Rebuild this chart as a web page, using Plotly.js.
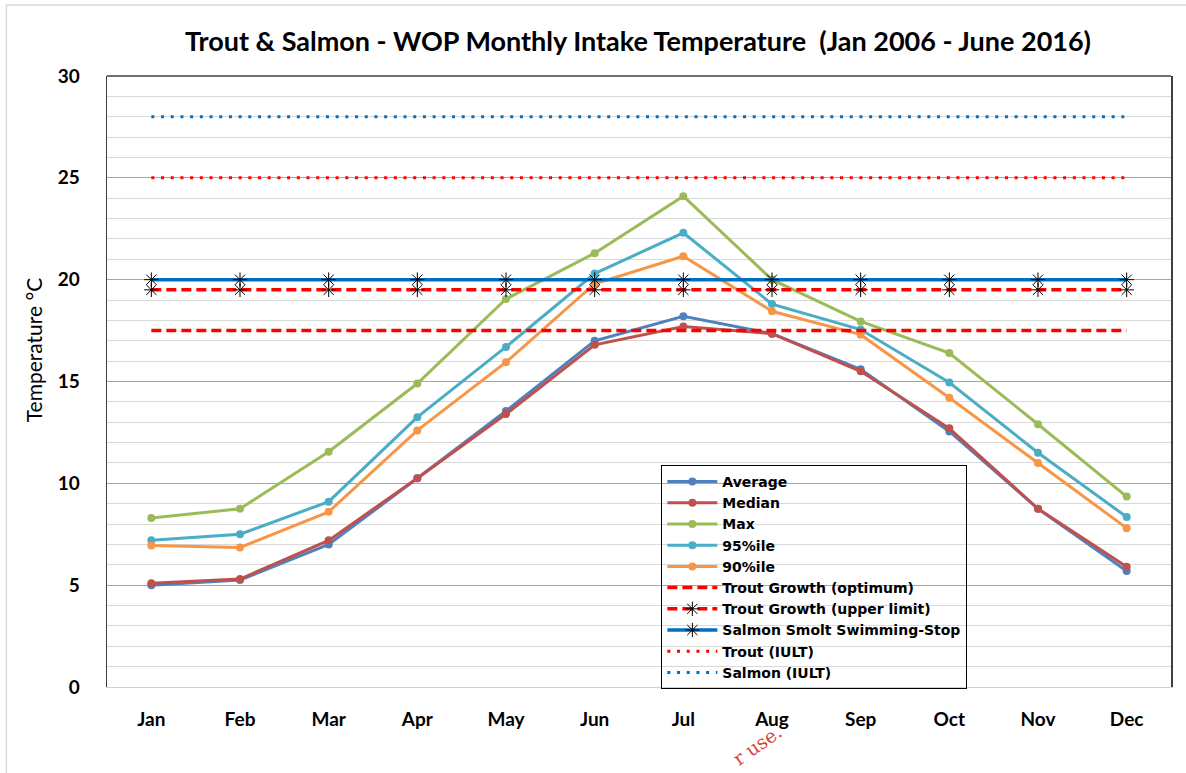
<!DOCTYPE html>
<html>
<head>
<meta charset="utf-8">
<script src="https://cdn.plot.ly/plotly-3.0.1.min.js"></script>
<style>
  html, body { margin: 0; padding: 0; background: #fff; }
  #chart { width: 1186px; height: 773px; }
</style>
</head>
<body>
<div id="chart"></div>
<script>
// monthly intake temperatures
const months = [ 'Jan', 'Feb', 'Mar', 'Apr', 'May', 'Jun', 'Jul', 'Aug', 'Sep', 'Oct', 'Nov', 'Dec' ];
const average = [ 5.0, 5.25, 7.0, 10.25, 13.55, 17.0, 18.2, 17.35, 15.6, 12.55, 8.75, 5.7 ];
const median = [ 5.1, 5.3, 7.2, 10.25, 13.4, 16.8, 17.7, 17.35, 15.5, 12.7, 8.75, 5.9 ];
const maxTemp = [ 8.3, 8.75, 11.55, 14.9, 19.05, 21.3, 24.1, 20.0, 17.95, 16.4, 12.9, 9.35 ];
const p95 = [ 7.2, 7.5, 9.1, 13.25, 16.7, 20.3, 22.3, 18.8, 17.55, 14.95, 11.5, 8.35 ];
const p90 = [ 6.95, 6.85, 8.6, 12.6, 15.95, 19.8, 21.15, 18.45, 17.3, 14.2, 11.0, 7.8 ];

// threshold lines (constant for every month)
const troutOptimum = 17.5;
const troutUpper = 19.5;
const salmonStop = 20;
const troutIULT = 25;
const salmonIULT = 28;

const yTicks = [ 0, 5, 10, 15, 20, 25, 30 ];

const flat = v => new Array(months.length).fill(v);
const FONT = 'Lato, "Open Sans", sans-serif';
const LEGEND_FONT = '"DejaVu Sans", Lato, sans-serif';

/**
 * data series: line + circle markers
 */
const series = ( name, y, color ) => ({
	x: months, y, name,
	type: 'scatter',
	mode: 'lines+markers',
	line: { color, width: 3 },
	marker: { color, size: 8, symbol: 'circle' },
});

const starMarker = { symbol: 'asterisk-open', size: 12, color: '#000', line: { color: '#000', width: 1 } };

const data = [
	series('Average', average, '#4F81BD'),
	series('Median', median, '#C0504D'),
	series('Max', maxTemp, '#9BBB59'),
	series('95%ile', p95, '#4BACC6'),
	series('90%ile', p90, '#F79646'),
	{
		x: months, y: flat(troutOptimum), name: 'Trout Growth (optimum)',
		type: 'scatter', mode: 'lines',
		line: { color: '#FF0000', width: 3.5, dash: '10px,5px' },
	},
	{
		x: months, y: flat(troutUpper), name: 'Trout Growth (upper limit)',
		type: 'scatter', mode: 'lines+markers',
		line: { color: '#FF0000', width: 3.5, dash: '10px,5px' },
		marker: starMarker,
	},
	{
		x: months, y: flat(salmonStop), name: 'Salmon Smolt Swimming-Stop',
		type: 'scatter', mode: 'lines+markers',
		line: { color: '#0070C0', width: 3.5 },
		marker: starMarker,
	},
	{
		x: months, y: flat(troutIULT), name: 'Trout (IULT)',
		type: 'scatter', mode: 'lines',
		line: { color: '#FF0000', width: 3, dash: '3px,6.7px' },
	},
	{
		x: months, y: flat(salmonIULT), name: 'Salmon (IULT)',
		type: 'scatter', mode: 'lines',
		line: { color: '#0070C0', width: 3, dash: '3px,6.7px' },
	},
];

const layout = {
	width: 1186,
	height: 773,
	margin: { l: 107, r: 15, t: 76, b: 86 },
	paper_bgcolor: '#fff',
	plot_bgcolor: '#fff',
	font: { family: FONT, color: '#000' },
	showlegend: true,
	title: {
		text: 'Trout & Salmon - WOP Monthly Intake Temperature  (Jan 2006 - June 2016)',
		font: { family: FONT, size: 27, weight: 'bold', color: '#000' },
		x: 0.538, xanchor: 'center',
		y: 0.946, yanchor: 'middle',
	},
	xaxis: {
		type: 'category',
		range: [ -0.5, 11.5 ],
		showgrid: false,
		zeroline: false,
		showline: true,
		linecolor: '#d0d0d0',
		linewidth: 1,
		ticks: '',
		ticklabelstandoff: 15,
		tickfont: { family: FONT, size: 19, weight: 'bold' },
		fixedrange: true,
	},
	yaxis: {
		range: [ 0, 30 ],
		tickvals: yTicks,
		showgrid: true,
		gridcolor: '#a6a6a6',
		gridwidth: 1,
		minor: { dtick: 1, showgrid: true, gridcolor: '#d9d9d9', gridwidth: 1, ticks: '' },
		zeroline: false,
		showline: true,
		mirror: true,
		linecolor: '#404040',
		linewidth: 1.5,
		ticks: '',
		ticklabelstandoff: 22,
		tickfont: { family: FONT, size: 19, weight: 'bold' },
		fixedrange: true,
	},
	legend: {
		x: 0.521, xanchor: 'left',
		y: 0.3633, yanchor: 'top',
		bgcolor: 'rgba(0,0,0,0)',
		bordercolor: '#000',
		borderwidth: 1,
		font: { family: LEGEND_FONT, size: 14, weight: 'bold' },
		tracegroupgap: 0,
		itemwidth: 50,
	},
	shapes: [
		// top border of plot area
		{ type: 'line', xref: 'paper', yref: 'paper', x0: 0, x1: 1, y0: 1, y1: 1,
			line: { color: '#404040', width: 1.5 } },
		// outer chart frame
		{ type: 'rect', xref: 'paper', yref: 'paper', x0: -0.0946, x1: 1.2, y0: -0.3, y1: 1.116,
			line: { color: '#d9d9d9', width: 1.5 } },
	],
	annotations: [
		{
			text: 'Temperature °C',
			xref: 'paper', yref: 'paper',
			x: -0.0696, y: 0.551,
			xanchor: 'center', yanchor: 'middle',
			textangle: -90,
			showarrow: false,
			font: { family: FONT, size: 21, color: '#000' },
		},
		{
			text: 'r use.',
			xref: 'paper', yref: 'paper',
			x: 0.611, y: -0.095,
			xanchor: 'center', yanchor: 'middle',
			textangle: -35,
			showarrow: false,
			font: { family: '"DejaVu Serif", "Liberation Serif", serif', size: 19, color: '#D2483C' },
		},
	],
};

Plotly.newPlot('chart', data, layout, { displayModeBar: false, staticPlot: true });
</script>
</body>
</html>
